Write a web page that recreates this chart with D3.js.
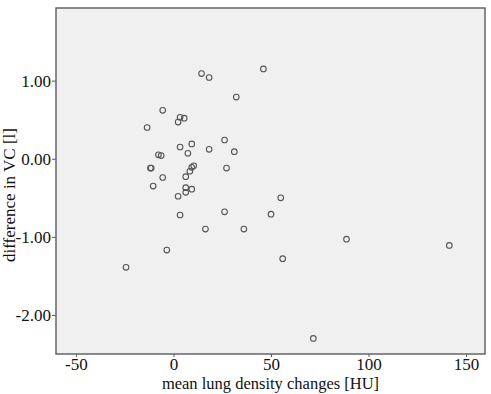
<!DOCTYPE html>
<html>
<head>
<meta charset="utf-8">
<script src="https://cdn.jsdelivr.net/npm/d3@7"></script>
<style>
  body { margin: 0; background: #fff; }
  text { font-family: "Liberation Serif", "Times New Roman", serif; fill: #111; }
</style>
</head>
<body>
<div id="chart"></div>
<script>
// mean lung density changes [HU]
const densityChange = [
    14.4, 18.3, 46.1, 32.2, -5.5, 3.4, 5.5, 2.4, -13.5, 26.2,
    3.4, 9.4, 18.3, 31.2, 7.4, -7.7, -6.3, -11.8, -11.4, 27.2,
    10.4, 9.4, 8.4, 6.3, -5.5, -10.4, 6.3, 9.4, 6.3, 2.4,
    55.0, 26.2, 50.0, 3.4, 16.4, 36.1, 88.7, 141.4, -3.4, 56.0,
    -24.3, 71.7
];
// difference in VC [l]
const vcDifference = [
    1.09, 1.04, 1.15, 0.79, 0.62, 0.53, 0.52, 0.47, 0.40, 0.24,
    0.15, 0.19, 0.12, 0.09, 0.07, 0.05, 0.04, -0.12, -0.12, -0.12,
    -0.09, -0.11, -0.16, -0.23, -0.24, -0.35, -0.37, -0.39, -0.43, -0.48,
    -0.50, -0.68, -0.71, -0.72, -0.90, -0.90, -1.03, -1.11, -1.17, -1.28,
    -1.39, -2.30
];
const xTicks = [-50, 0, 50, 100, 150];
const yTicks = [1, 0, -1, -2];

const W = 491, H = 394;
const margin = { top: 8, right: 6, bottom: 40, left: 56 };
const width = W - margin.left - margin.right;
const height = H - margin.top - margin.bottom;

const svg = d3.select("#chart").append("svg")
    .attr("width", W)
    .attr("height", H);

const g = svg.append("g")
    .attr("transform", "translate(" + margin.left + "," + margin.top + ")");

const x = d3.scaleLinear().domain([-60.2, 159.7]).range([0, width]);
const y = d3.scaleLinear().domain([-2.5, 1.93]).range([height, 0]);

// SPSS prints a plain hyphen for negatives
const fmtX = d => String(d);
const fmtY = d => d.toFixed(2);

// plot background
g.append("rect")
    .attr("width", width)
    .attr("height", height)
    .attr("fill", "#f0f0f0");

// axes, ticks point outwards
const xAxis = g.append("g")
    .attr("transform", "translate(0," + height + ")")
    .call(d3.axisBottom(x).tickValues(xTicks).tickSize(3).tickPadding(1).tickFormat(fmtX));
const yAxis = g.append("g")
    .call(d3.axisLeft(y).tickValues(yTicks).tickSize(4).tickPadding(1).tickFormat(fmtY));

[xAxis, yAxis].forEach(a => {
    a.select(".domain").remove();
    a.selectAll(".tick line").attr("stroke", "#555");
    a.selectAll(".tick text")
        .attr("font-size", "17px")
        .attr("font-family", "Liberation Serif, serif")
        .attr("fill", "#111");
});
yAxis.selectAll(".tick text").attr("dy", "0.35em");

// frame
g.append("rect")
    .attr("width", width)
    .attr("height", height)
    .attr("fill", "none")
    .attr("stroke", "#666")
    .attr("stroke-width", 1.5);

// points
const pts = densityChange.map((d, i) => ({ x: d, y: vcDifference[i] }));
g.selectAll(".pt")
    .data(pts)
    .enter().append("circle")
    .attr("class", "pt")
    .attr("cx", d => x(d.x))
    .attr("cy", d => y(d.y))
    .attr("r", 2.8)
    .attr("fill", "none")
    .attr("stroke", "#555")
    .attr("stroke-width", 1.1);

// axis titles
svg.append("text")
    .attr("x", margin.left + width / 2)
    .attr("y", 389)
    .attr("text-anchor", "middle")
    .attr("font-size", "16.5px")
    .text("mean lung density changes [HU]");

svg.append("text")
    .attr("transform", "translate(15,195) rotate(-90)")
    .attr("text-anchor", "middle")
    .attr("font-size", "17px")
    .text("difference in VC [l]");
</script>
</body>
</html>
